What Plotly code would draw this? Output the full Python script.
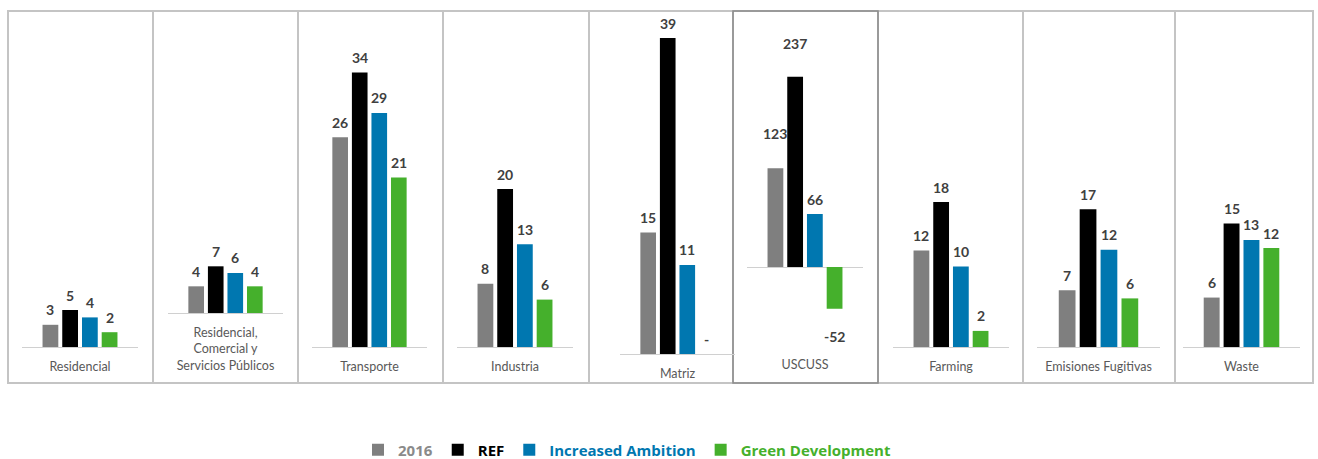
import plotly.graph_objects as go

# Emissions by sector under each scenario
categories = [
    "Residencial",
    "Residencial,<br>Comercial y<br>Servicios Públicos",
    "Transporte",
    "Industria",
    "Matriz",
    "USCUSS",
    "Farming",
    "Emisiones Fugitivas",
    "Waste",
]
values_2016 = [3, 4, 26, 8, 15, 123, 12, 7, 6]
values_ref = [5, 7, 34, 20, 39, 237, 18, 17, 15]
values_increased = [4, 6, 29, 13, 11, 66, 10, 12, 13]
values_green = [2, 4, 21, 6, 0, -52, 2, 6, 12]

series_names = [
    "<span style='color:#8a8a8a'><b>2016</b></span>",
    "<span style='color:#000000'><b>REF</b></span>",
    "<span style='color:#0077b0'><b>Increased Ambition</b></span>",
    "<span style='color:#45b02c'><b>Green Development</b></span>",
]
series_values = [values_2016, values_ref, values_increased, values_green]
series_colors = ["#7f7f7f", "#000000", "#0077b0", "#45b02c"]

# Layout of the small multiples (pixels in a 1318 x 459 canvas)
W, H = 1318, 459
panel_edges = [8, 153, 298, 443, 589, 733, 878, 1023, 1175, 1313]
panel_top, panel_bottom = 11, 383
axis_spans = [(22, 138), (168, 283), (312, 427), (457, 573), (620, 735),
              (747, 863), (893, 1009), (1037, 1160), (1183, 1300)]
baselines = [347, 313, 347, 347, 354, 267, 347, 347, 347]
# where the category label axis sits; USCUSS keeps its labels at the panel foot
label_axis_at = [347, 313, 347, 347, 354, 347, 347, 347, 347]
px_per_unit = [7.4, 6.67, 8.07, 7.9, 8.1, 0.803, 8.05, 8.1, 8.24]
# extra vertical offset of value labels (px), sign follows the bar direction
label_lift = [[15, 15, 15, 15]] * 5 + [[35, 33, 15, 28]] + [[15, 15, 15, 15]] * 3

plot_top, plot_bottom = 15, 385
BARGAP, GROUPGAP = 0.32, 0.2
LABEL_FONT = "Lato, Carlito, sans-serif"
AXIS_GREY = "#d0d0d0"


def px_x(p):
    return p / W


def px_y(p):
    return 1 - p / H


fig = go.Figure()
annotations = []
layout_axes = {}

for i, cat in enumerate(categories):
    ax = "" if i == 0 else str(i + 1)
    x0, x1 = axis_spans[i]
    slot = (x1 - x0) * (1 - BARGAP) / 4
    for j in range(4):
        v = series_values[j][i]
        fig.add_trace(go.Bar(
            x=[cat], y=[v],
            xaxis="x" + ax, yaxis="y" + ax,
            name=series_names[j],
            legendgroup=str(j),
            showlegend=(i == 0),
            marker=dict(color=series_colors[j], line=dict(width=0)),
            hoverinfo="skip",
        ))
        lift = label_lift[i][j]
        annotations.append(dict(
            x=cat, y=v, xref="x" + ax, yref="y" + ax,
            text="<b>%s</b>" % ("-" if v == 0 else str(v)),
            showarrow=False,
            xshift=slot * (j - 1.5),
            yshift=lift if v >= 0 else -lift,
            yanchor="middle",
            font=dict(family=LABEL_FONT, size=14, color="#404040"),
        ))

    b, s = baselines[i], px_per_unit[i]
    line_on_axis = label_axis_at[i] == b
    layout_axes["xaxis" + ax] = dict(
        domain=[px_x(x0), px_x(x1)],
        anchor="free", position=px_y(label_axis_at[i]),
        type="category",
        showline=line_on_axis, linecolor=AXIS_GREY, linewidth=1,
        ticks="inside" if line_on_axis else "",
        tickson="boundaries", ticklen=3, tickcolor=AXIS_GREY,
        showgrid=False, zeroline=False,
        tickfont=dict(family=LABEL_FONT, size=12.5, color="#595959"),
        ticklabelstandoff=8,
        automargin=False,
        fixedrange=True,
    )
    layout_axes["yaxis" + ax] = dict(
        domain=[px_y(plot_bottom), px_y(plot_top)],
        anchor="x" + ax,
        range=[-(plot_bottom - b) / s, (b - plot_top) / s],
        showticklabels=False, showgrid=False, showline=False, ticks="",
        zeroline=not line_on_axis, zerolinecolor=AXIS_GREY, zerolinewidth=1,
        automargin=False,
        fixedrange=True,
    )

# panel frames
shapes = []
for k in range(len(panel_edges) - 1):
    shapes.append(dict(
        type="rect", xref="paper", yref="paper",
        x0=px_x(panel_edges[k]), x1=px_x(panel_edges[k + 1]),
        y0=px_y(panel_bottom), y1=px_y(panel_top),
        line=dict(color="#c4c4c4", width=2), layer="below",
    ))
shapes.append(dict(
    type="rect", xref="paper", yref="paper",
    x0=px_x(panel_edges[5]), x1=px_x(panel_edges[6]),
    y0=px_y(panel_bottom), y1=px_y(panel_top),
    line=dict(color="#8c8c8c", width=1.5), layer="below",
))

fig.update_layout(
    width=W, height=H,
    margin=dict(l=0, r=0, t=0, b=0, autoexpand=False),
    paper_bgcolor="white", plot_bgcolor="rgba(0,0,0,0)",
    barmode="group", bargap=BARGAP, bargroupgap=GROUPGAP,
    showlegend=True,
    legend=dict(
        orientation="h", x=px_x(358), xanchor="left",
        yref="container", y=px_y(450), yanchor="middle",
        font=dict(family="Open Sans, sans-serif", size=15, color="#000000"),
        itemclick=False, itemdoubleclick=False,
        tracegroupgap=0,
    ),
    annotations=annotations,
    shapes=shapes,
    **layout_axes,
)

fig.write_html("out.html")
